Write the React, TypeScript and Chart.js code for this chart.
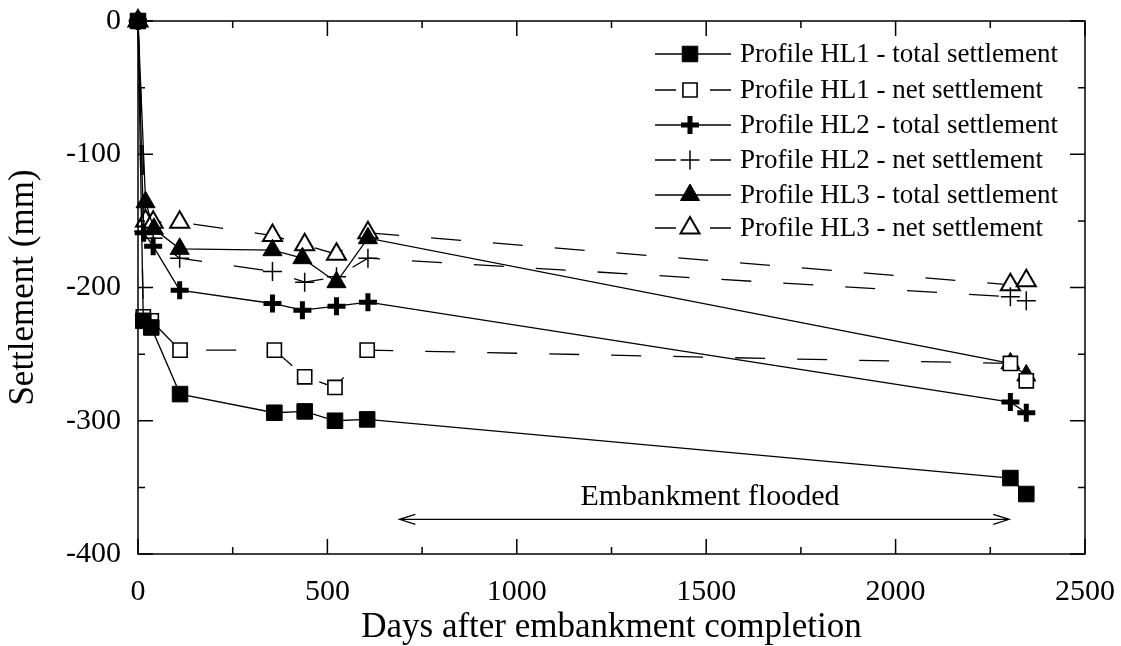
import React, { useEffect, useRef } from "react";
import { Chart, registerables } from "chart.js";
import { drawPoint } from "chart.js/helpers";
Chart.register(...registerables);

// ---- data ----
const hl1TotalDays = [0, 14, 35, 111, 360, 440, 520, 605, 2303, 2345];
const hl1TotalVals = [0, -225, -230, -280, -294, -293, -300, -299, -343, -355];
const hl1NetDays = [0, 14, 35, 111, 360, 440, 520, 605, 2303, 2345];
const hl1NetVals = [0, -222, -225, -247, -247, -267, -275, -247, -257, -270];
const hl2TotalDays = [0, 15, 40, 110, 355, 434, 524, 607, 2303, 2345];
const hl2TotalVals = [0, -159, -169, -202, -212, -217, -214, -211, -286, -294];
const hl2NetDays = [0, 15, 40, 110, 355, 440, 524, 607, 2303, 2345];
const hl2NetVals = [0, -158, -163, -178, -188, -196, -192, -178, -207, -210];
const hl3TotalDays = [0, 20, 42, 110, 355, 434, 524, 607, 2303, 2345];
const hl3TotalVals = [0, -136, -156, -171, -172, -178, -196, -163, -257, -266];
const hl3NetDays = [0, 20, 40, 110, 355, 440, 524, 607, 2303, 2345];
const hl3NetVals = [0, -150, -151, -151, -161, -168, -175, -159, -198, -195];

const seriesLabels = [
  "Profile HL1 - total settlement",
  "Profile HL1 - net settlement",
  "Profile HL2 - total settlement",
  "Profile HL2 - net settlement",
  "Profile HL3 - total settlement",
  "Profile HL3 - net settlement",
];
const xTitle = "Days after embankment completion";
const yTitle = "Settlement (mm)";
const annotationText = "Embankment flooded";
const floodStartDay = 690;
const floodEndDay = 2300;
const floodArrowVal = -374;
const floodTextVal = -357;
const floodTextDay = 1510;

const FONT = "'Liberation Serif', 'Times New Roman', serif";

const pts = (d: number[], v: number[]) => d.map((x, i) => ({ x, y: v[i] }));

type Style = {
  pointStyle: any;
  radius: number;
  fill: string;
  bw: number;
  dashed: boolean;
};
const styles: Style[] = [
  { pointStyle: "rect", radius: 11, fill: "#000", bw: 1, dashed: false },
  { pointStyle: "rect", radius: 10, fill: "#fff", bw: 1.6, dashed: true },
  { pointStyle: "cross", radius: 9, fill: "#000", bw: 5, dashed: false },
  { pointStyle: "cross", radius: 9.5, fill: "#000", bw: 1.5, dashed: true },
  { pointStyle: "triangle", radius: 11, fill: "#000", bw: 1, dashed: false },
  { pointStyle: "triangle", radius: 11, fill: "#fff", bw: 2, dashed: true },
];

const decorPlugin = {
  id: "decor",
  afterDatasetsDraw(chart: any) {
    const { ctx, chartArea: a, scales } = chart;
    const xs = scales.x;
    const ys = scales.y;
    ctx.save();
    ctx.strokeStyle = "#000";
    ctx.lineWidth = 1.5;
    for (let d = 0; d <= 2500; d += 250) {
      const px = xs.getPixelForValue(d);
      const len = d % 500 === 0 ? 15 : 7;
      ctx.beginPath();
      ctx.moveTo(px, a.bottom);
      ctx.lineTo(px, a.bottom - len);
      ctx.moveTo(px, a.top);
      ctx.lineTo(px, a.top + len);
      ctx.stroke();
    }
    for (let v = -400; v <= 0; v += 50) {
      const py = ys.getPixelForValue(v);
      const len = v % 100 === 0 ? 15 : 7;
      ctx.beginPath();
      ctx.moveTo(a.left, py);
      ctx.lineTo(a.left + len, py);
      ctx.moveTo(a.right, py);
      ctx.lineTo(a.right - len, py);
      ctx.stroke();
    }
    ctx.strokeRect(a.left, a.top, a.right - a.left, a.bottom - a.top);

    // annotation arrow
    const ax1 = xs.getPixelForValue(floodStartDay);
    const ax2 = xs.getPixelForValue(floodEndDay);
    const ay = ys.getPixelForValue(floodArrowVal);
    ctx.lineWidth = 1.2;
    ctx.beginPath();
    ctx.moveTo(ax1, ay);
    ctx.lineTo(ax2, ay);
    ctx.moveTo(ax1 + 16, ay - 5);
    ctx.lineTo(ax1, ay);
    ctx.lineTo(ax1 + 16, ay + 5);
    ctx.moveTo(ax2 - 16, ay - 5);
    ctx.lineTo(ax2, ay);
    ctx.lineTo(ax2 - 16, ay + 5);
    ctx.stroke();
    ctx.fillStyle = "#000";
    ctx.font = `30px ${FONT}`;
    ctx.textAlign = "center";
    ctx.textBaseline = "middle";
    ctx.fillText(annotationText, xs.getPixelForValue(floodTextDay), ys.getPixelForValue(floodTextVal));

    // legend
    const lx = 690;
    const rows = [54, 90, 125, 160, 195, 228];
    ctx.textAlign = "left";
    ctx.font = `27px ${FONT}`;
    styles.forEach((s, i) => {
      const y = rows[i];
      ctx.strokeStyle = "#000";
      ctx.lineWidth = 1.3;
      ctx.beginPath();
      if (s.dashed) {
        ctx.moveTo(655, y);
        ctx.lineTo(676, y);
        ctx.moveTo(710, y);
        ctx.lineTo(731, y);
      } else {
        ctx.moveTo(655, y);
        ctx.lineTo(731, y);
      }
      ctx.stroke();
      ctx.fillStyle = s.fill;
      ctx.lineWidth = s.bw;
      drawPoint(ctx, { pointStyle: s.pointStyle, radius: s.radius, rotation: 0, borderWidth: s.bw } as any, lx, y);
      ctx.fillStyle = "#000";
      ctx.fillText(seriesLabels[i], 740, y + 1);
    });
    ctx.restore();
  },
};

export default function App() {
  const ref = useRef<HTMLCanvasElement | null>(null);
  useEffect(() => {
    if (!ref.current) return;
    const data = [
      pts(hl1TotalDays, hl1TotalVals),
      pts(hl1NetDays, hl1NetVals),
      pts(hl2TotalDays, hl2TotalVals),
      pts(hl2NetDays, hl2NetVals),
      pts(hl3TotalDays, hl3TotalVals),
      pts(hl3NetDays, hl3NetVals),
    ];
    const chart = new Chart(ref.current, {
      type: "line",
      data: {
        datasets: data.map((d, i) => ({
          label: seriesLabels[i],
          data: d,
          borderColor: "#000",
          borderWidth: 1.3,
          borderDash: styles[i].dashed ? [30, 32] : [],
          pointStyle: styles[i].pointStyle,
          pointRadius: styles[i].radius,
          pointHoverRadius: styles[i].radius,
          pointBackgroundColor: styles[i].fill,
          pointBorderColor: "#000",
          pointBorderWidth: styles[i].bw,
          tension: 0,
          fill: false,
          clip: false,
        })),
      },
      options: {
        responsive: false,
        animation: false,
        devicePixelRatio: 1,
        layout: { padding: { top: 21, right: 36, left: 0, bottom: 0 } },
        plugins: { legend: { display: false }, tooltip: { enabled: false } },
        scales: {
          x: {
            type: "linear",
            min: 0,
            max: 2500,
            grid: { display: false, drawTicks: false },
            border: { display: false },
            ticks: {
              stepSize: 500,
              color: "#000",
              padding: 20,
              maxRotation: 0,
              font: { family: FONT, size: 30 },
              callback: (v: any) => String(v),
            },
            title: { display: true, text: xTitle, color: "#000", font: { family: FONT, size: 35, lineHeight: 1 }, padding: { top: 0, bottom: 1 } },
            afterFit: (s: any) => {
              s.height = 92;
              s.paddingLeft = 0;
              s.paddingRight = 0;
            },
          },
          y: {
            type: "linear",
            min: -400,
            max: 0,
            grid: { display: false, drawTicks: false },
            border: { display: false },
            ticks: {
              stepSize: 100,
              color: "#000",
              padding: 17,
              font: { family: FONT, size: 30 },
              callback: (v: any) => String(v),
            },
            title: { display: true, text: yTitle, color: "#000", font: { family: FONT, size: 35, lineHeight: 1 }, padding: { top: 6, bottom: 0 } },
            afterFit: (s: any) => {
              s.width = 138;
              s.paddingTop = 0;
              s.paddingBottom = 0;
            },
          },
        },
      },
      plugins: [decorPlugin],
    } as any);
    return () => chart.destroy();
  }, []);
  return (
    <canvas
      ref={ref}
      width={1121}
      height={646}
      style={{ position: "absolute", left: 0, top: 0, width: 1121, height: 646, display: "block" }}
    />
  );
}
